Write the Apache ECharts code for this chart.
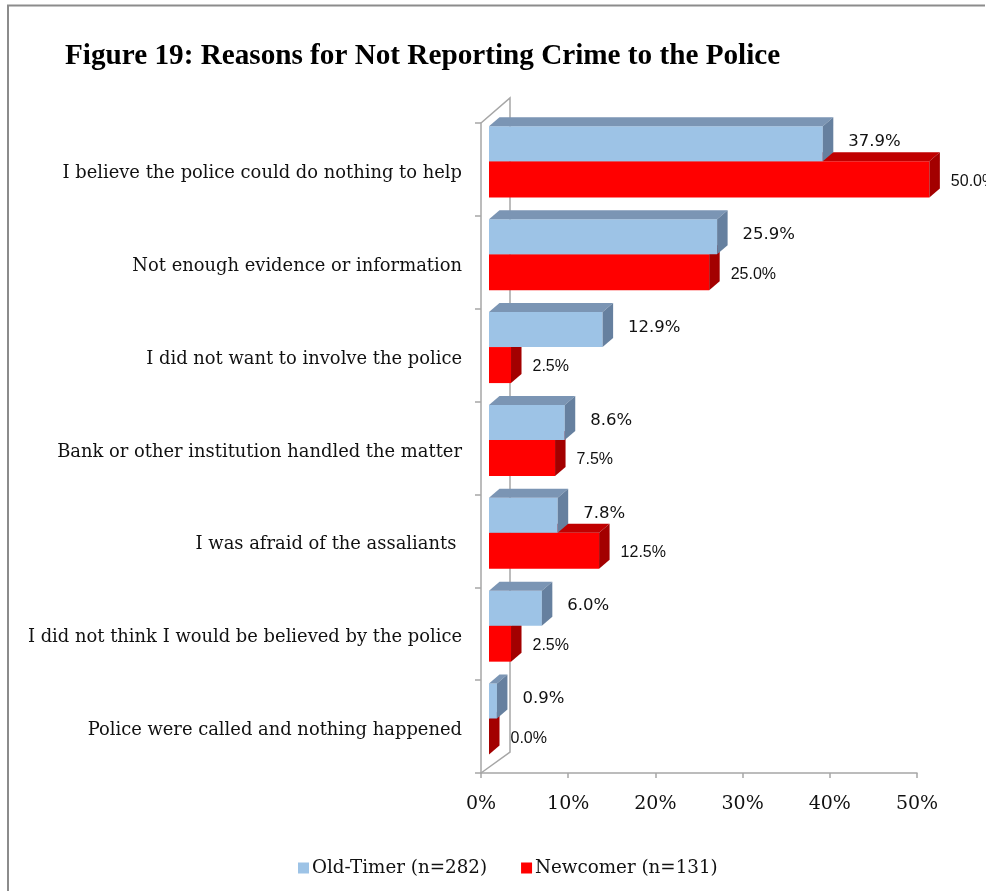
<!DOCTYPE html>
<html>
<head>
<meta charset="utf-8">
<script src="https://cdn.jsdelivr.net/npm/echarts@6/dist/echarts.min.js"></script>
<style>
html,body{margin:0;padding:0;background:#fff;}
#chart{width:986px;height:891px;}
</style>
</head>
<body>
<div id="chart"></div>
<script>
const titleText = 'Figure 19: Reasons for Not Reporting Crime to the Police';
const categories = [
  'I believe the police could do nothing to help',
  'Not enough evidence or information',
  'I did not want to involve the police',
  'Bank or other institution handled the matter',
  'I was afraid of the assaliants ',
  'I did not think I would be believed by the police',
  'Police were called and nothing happened'
];
const seriesNames = ['Old-Timer (n=282)', 'Newcomer (n=131)'];
const oldTimer = [37.9, 25.9, 12.9, 8.6, 7.8, 6.0, 0.9];
const newcomer = [50.0, 25.0, 2.5, 7.5, 12.5, 2.5, 0.0];
const xMin = 0, xMax = 50, xStep = 10;

const palette = {
  old: { front: '#9DC3E6', top: '#7B95B4', side: '#66809F' },
  new: { front: '#FF0000', top: '#C00000', side: '#A30000' }
};
const DX = 10.5, DY = 9;

function makeRender(kind) {
  const col = palette[kind];
  return function (params, api) {
    const v = api.value(0);
    const ci = api.value(1);
    const c0 = api.coord([0, ci]);
    const c1 = api.coord([v, ci]);
    const band = api.size([0, 1])[1];
    const bandStart = c0[1] - band / 2;
    let yTop, h;
    if (kind === 'old') { yTop = bandStart + band * 0.036; h = band * 0.377; }
    else { yTop = bandStart + band * 0.413; h = band * 0.388; }
    const x0 = c0[0] + 8;
    const x1 = x0 + (c1[0] - c0[0]) * 1.01;
    const children = [
      { type: 'rect', shape: { x: x0, y: yTop, width: x1 - x0, height: h }, style: { fill: col.front } },
      { type: 'polygon', shape: { points: [[x0, yTop], [x0 + DX, yTop - DY], [x1 + DX, yTop - DY], [x1, yTop]] }, style: { fill: col.top } },
      { type: 'polygon', shape: { points: [[x1, yTop], [x1 + DX, yTop - DY], [x1 + DX, yTop + h - DY], [x1, yTop + h]] }, style: { fill: col.side } },
      { type: 'text', style: {
          text: v.toFixed(1) + '%',
          x: x1 + DX + (kind === 'old' ? 15 : 11),
          y: yTop + h / 2 + (kind === 'old' ? -2 : 2),
          align: 'left', verticalAlign: 'middle',
          fill: '#111',
          fontSize: kind === 'old' ? 16.5 : 16,
          fontFamily: kind === 'old' ? 'DejaVu Sans' : 'Liberation Sans'
        } }
    ];
    return { type: 'group', children: children };
  };
}

const chart = echarts.init(document.getElementById('chart'));
const gridLeft = 481, gridTop = 123, gridW = 436, gridH = 650;
const wallStyle = { stroke: '#A6A6A6', lineWidth: 1.5, fill: null };
const option = {
  animation: false,
  backgroundColor: '#fff',
  title: {
    text: titleText,
    left: 60, top: 37,
    textStyle: { fontFamily: 'Liberation Serif', fontWeight: 'bold', fontSize: 29.2, color: '#000' }
  },
  legend: {
    left: 293, top: 854,
    itemWidth: 11, itemHeight: 11, itemGap: 34,
    icon: 'rect',
    data: seriesNames,
    textStyle: { fontFamily: 'DejaVu Serif', fontSize: 18.3, color: '#111', padding: [0, 0, 0, -2] }
  },
  grid: { left: gridLeft, top: gridTop, width: gridW, height: gridH, containLabel: false },
  xAxis: {
    type: 'value', min: xMin, max: xMax, interval: xStep,
    axisLine: { show: true, lineStyle: { color: '#A6A6A6', width: 1.5 } },
    axisTick: { show: true, length: 5, lineStyle: { color: '#A6A6A6', width: 1.5 } },
    splitLine: { show: false },
    axisLabel: { formatter: '{value}%', margin: 22, fontFamily: 'DejaVu Serif', fontSize: 19, color: '#111' }
  },
  yAxis: {
    type: 'category', data: categories, inverse: true,
    axisLine: { show: true, lineStyle: { color: '#A6A6A6', width: 1.5 } },
    axisTick: { show: true, length: 6, lineStyle: { color: '#A6A6A6', width: 1.5 } },
    axisLabel: { margin: 19, fontFamily: 'DejaVu Serif', fontSize: 17.9, color: '#111', verticalAlign: 'top', lineHeight: 8 }
  },
  graphic: [
    { type: 'polyline', shape: { points: [[gridLeft, gridTop], [gridLeft + 29, gridTop - 25], [gridLeft + 29, gridTop + gridH - 21], [gridLeft, gridTop + gridH]] }, style: wallStyle, z: 1 },
    { type: 'polyline', shape: { points: [[8, 891], [8, 5.5], [985, 5.5]] }, style: { stroke: '#8C8C8C', lineWidth: 2, fill: null }, z: 1 }
  ],
  series: [
    {
      name: seriesNames[0], type: 'custom', z: 3,
      itemStyle: { color: palette.old.front },
      encode: { x: 0, y: 1 },
      renderItem: makeRender('old'),
      data: oldTimer.map((v, i) => [v, i])
    },
    {
      name: seriesNames[1], type: 'custom', z: 2,
      itemStyle: { color: palette.new.front },
      encode: { x: 0, y: 1 },
      renderItem: makeRender('new'),
      data: newcomer.map((v, i) => [v, i])
    }
  ]
};
chart.setOption(option);
</script>
</body>
</html>
